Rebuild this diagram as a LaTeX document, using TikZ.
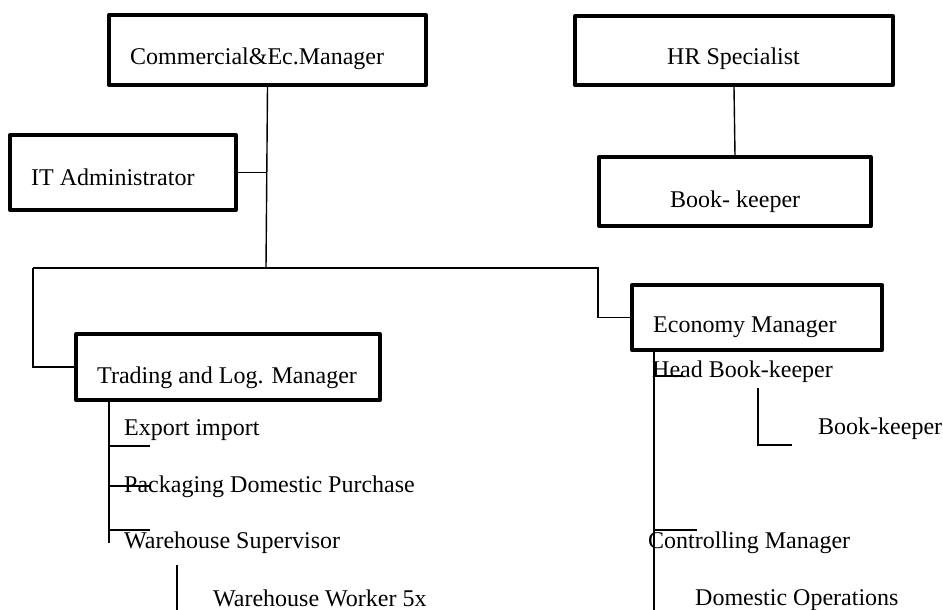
\documentclass[tikz,border=0pt]{standalone}
\usepackage{fontspec}
\setmainfont{Liberation Serif}
\begin{document}
\begin{tikzpicture}[x=1pt,y=-1pt,
  frame/.style={draw,line width=4pt,line join=round,inner sep=0pt},
  lbl/.style={anchor=base west,inner sep=0pt,font=\fontsize{24}{28}\selectfont},
  thin/.style={line width=1.4pt},
  thick/.style={line width=2.3pt}]
\useasboundingbox (0,0) rectangle (943,610);

% boxed positions
\node[frame,minimum width=317pt,minimum height=70pt] (cem) at (267.5,50) {};
\node[frame,minimum width=226pt,minimum height=75pt] (it) at (123,172.5) {};
\node[frame,minimum width=318pt,minimum height=69pt] (hr) at (734,50.5) {};
\node[frame,minimum width=272pt,minimum height=69pt] (bk) at (735,191.5) {};
\node[frame,minimum width=304pt,minimum height=66pt] (tlm) at (228,367) {};
\node[frame,minimum width=250pt,minimum height=65pt] (eco) at (757,317.5) {};

% box titles
\node[lbl] (tcem) at (130,65) {Commercial\&Ec.Manager};
\node[lbl] (tit) at (31,185) {IT Administrator};
\node[lbl] (thr) at (667,65) {HR Specialist};
\node[lbl] (tbk) at (670,207) {Book- keeper};
\node[lbl] (ttlm) at (97,383) {Trading and Log. Manager};
\node[lbl] (teco) at (653,332) {Economy Manager};

% subordinate positions
\node[lbl] (exp) at (124,435) {Export import};
\node[lbl] (pack) at (124,492) {Packaging Domestic Purchase};
\node[lbl] (wsup) at (124,548) {Warehouse Supervisor};
\node[lbl] (wwork) at (213,606) {Warehouse Worker 5x};
\node[lbl] (hbk) at (652,377) {Head Book-keeper};
\node[lbl] (bk2) at (818,434) {Book-keeper};
\node[lbl] (ctrl) at (648,548) {Controlling Manager};
\node[lbl] (dom) at (695,605) {Domestic Operations};

% junction points
\coordinate (trunk) at (266,268);
\coordinate (lft) at (33,268);
\coordinate (rgt) at (598,268);
\coordinate (tvTop) at (109,400);
\coordinate (tvEnd) at (109,543);
\coordinate (ww1) at (177,565);
\coordinate (ww2) at (177,610);
\coordinate (evTop) at (654,352);
\coordinate (evEnd) at (654,610);
\coordinate (bkc1) at (758,388);
\coordinate (bkc2) at (758,445);
\coordinate (bkc3) at (792,445);

% connectors
\draw[thin] (cem.south) -- (trunk);
\draw[thin] (it.east) -- (it.east -| 267,0);
\draw[thin] (hr.south) -- (bk.north);
\draw[thin] (lft) -- (rgt) |- (eco.west);
\draw[thick] (tlm.west) -| (lft);

\draw[thin] (tvTop) -- (tvEnd);
\draw[thin] (109,446) -- (150,446);
\draw[thin] (109,486) -- (150,486);
\draw[thin] (109,530) -- (150,530);
\draw[thick] (ww1) -- (ww2);

\draw[thin] (evTop) -- (evEnd);
\draw[thin] (654,376) -- (682,376);
\draw[thin] (654,530) -- (697,530);
\draw[thick] (bkc1) -- (bkc2) -- (bkc3);
\end{tikzpicture}
\end{document}
